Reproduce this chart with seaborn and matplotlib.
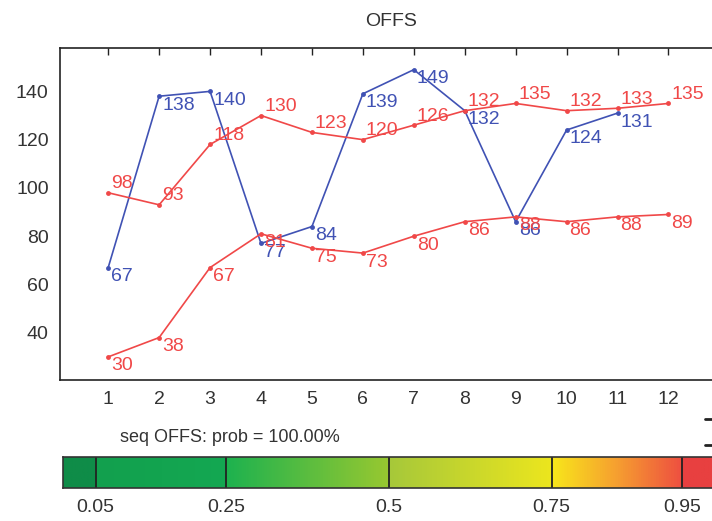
import numpy as np
import pandas as pd
import seaborn as sns
import matplotlib
matplotlib.use("Agg")
import matplotlib.pyplot as plt
from matplotlib.colors import LinearSegmentedColormap
from matplotlib.lines import Line2D

# ---- data -------------------------------------------------------------
steps = list(range(1, 13))
blue_vals = [67, 138, 140, 77, 84, 139, 149, 132, 86, 124, 131]
red_upper = [98, 93, 118, 130, 123, 120, 126, 132, 135, 132, 133, 135]
red_lower = [30, 38, 67, 81, 75, 73, 80, 86, 88, 86, 88, 89]
x_ticks = list(range(1, 13))
y_ticks = [40, 60, 80, 100, 120, 140]
prob_ticks = [0.05, 0.25, 0.5, 0.75, 0.95]
prob_labels = ["0.05", "0.25", "0.5", "0.75", "0.95"]
title = "OFFS"
caption = "seq OFFS: prob = 100.00%"

BLUE = "#4052b4"
RED = "#f04848"
TXT = "#333333"

sns.set_theme(style="white")
plt.rcParams["font.family"] = ["Liberation Sans Narrow", "Liberation Sans", "DejaVu Sans"]

fig = plt.figure(figsize=(7.12, 5.21), dpi=100)
ax = fig.add_axes([0.084, 0.271, 0.93, 0.637])

series = [
    (steps[:len(blue_vals)], blue_vals, BLUE, (3, -9)),
    (steps, red_upper, RED, (3, 9)),
    (steps, red_lower, RED, (3, -9)),
]
for xs, ys, col, off in series:
    df = pd.DataFrame({"x": xs, "y": ys})
    sns.lineplot(data=df, x="x", y="y", ax=ax, color=col, lw=1.2,
                 marker="o", markersize=3.5, markeredgewidth=0, sort=False)
    for xv, yv in zip(xs, ys):
        ax.annotate(str(yv), (xv, yv), xytext=off, textcoords="offset pixels",
                    ha="left", va="center", fontsize=14, color=col)

ax.set_xlim(0.05, 13.05)
ax.set_ylim(20.5, 158)
ax.set_xticks(x_ticks)
ax.set_yticks(y_ticks)
ax.set_xlabel("")
ax.set_ylabel("")
ax.tick_params(direction="in", length=5, width=1, color="#222222",
               top=True, right=True, labelsize=14, labelcolor=TXT, pad=8)
for s in ax.spines.values():
    s.set_color("#222222")
    s.set_linewidth(1.2)
ax.set_title(title, fontsize=14, color=TXT, pad=16)

fig.text(0.168, 0.16, caption, fontsize=13, color=TXT, ha="left", va="center")

# clipped edge marks at the right border
for yy in (0.195, 0.145):
    fig.add_artist(Line2D([0.99, 1.0], [yy, yy], color="#222222", lw=2))

# ---- probability colour bar ----------------------------------------
cmap = LinearSegmentedColormap.from_list("prob", [
    (0.0, "#0f8c48"), (0.05, "#0f8c48"), (0.0501, "#12a04e"), (0.25, "#14a852"),
    (0.2501, "#1db24f"), (0.5, "#98c830"), (0.5001, "#a6c83a"), (0.75, "#ece61e"),
    (0.7501, "#f8e81a"), (0.85, "#f6a030"), (0.95, "#ee5040"), (0.9501, "#e84040"),
    (1.0, "#e84040")])
cax = fig.add_axes([0.0885, 0.064, 0.915, 0.058])
grad = np.linspace(0, 1, 800).reshape(1, -1)
cax.imshow(grad, cmap=cmap, aspect="auto", extent=[0, 1, 0, 1])
for p in prob_ticks:
    cax.axvline(p, color="#222222", lw=1.3)
cax.set_xlim(0, 1)
cax.set_ylim(0, 1)
cax.set_yticks([])
cax.set_xticks(prob_ticks)
cax.set_xticklabels(prob_labels)
cax.tick_params(axis="x", length=0, labelsize=14, labelcolor=TXT, pad=8)
for s in cax.spines.values():
    s.set_color("#333333")
    s.set_linewidth(1.2)

fig.savefig("out.png", dpi=100)
